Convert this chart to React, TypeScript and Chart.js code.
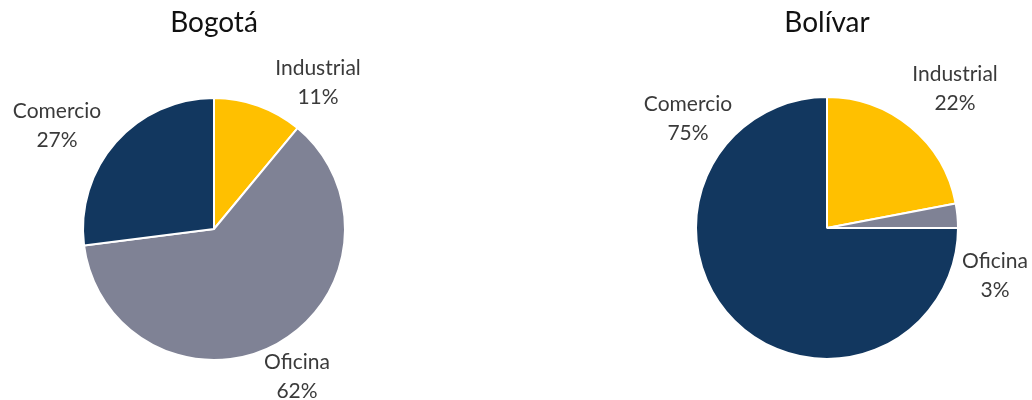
import React, { useEffect, useRef } from "react";
import { Chart, registerables } from "chart.js";

Chart.register(...registerables);

const categories = ["Industrial", "Oficina", "Comercio"];
const bogotaValues = [11, 62, 27];
const bolivarValues = [22, 3, 75];
const titles = ["Bogotá", "Bolívar"];
const colors = ["#FFC000", "#7F8295", "#12375F"];

const FONT = "Lato, 'Open Sans', sans-serif";

type LabelPos = { x: number; y: number };

const labelPlugin = {
  id: "pieLabels",
  afterDraw(chart: any, _args: any, opts: any) {
    const ctx = chart.ctx;
    const meta = chart.getDatasetMeta(0);
    const arc = meta.data[0];
    if (!arc) return;
    const cx = arc.x;
    const cy = arc.y;
    ctx.save();
    ctx.fillStyle = "#111111";
    ctx.font = `28px ${FONT}`;
    ctx.textAlign = "center";
    ctx.textBaseline = "middle";
    ctx.fillText(opts.title, cx, 23);
    ctx.fillStyle = "#3a3a3a";
    ctx.font = `21px ${FONT}`;
    const labels = chart.data.labels as string[];
    const values = chart.data.datasets[0].data as number[];
    const pos: LabelPos[] = opts.positions;
    labels.forEach((lab, i) => {
      const p = pos[i];
      ctx.fillText(lab, cx + p.x, cy + p.y - 14);
      ctx.fillText(values[i] + "%", cx + p.x, cy + p.y + 15);
    });
    ctx.restore();
  },
};

function Pie({
  values,
  title,
  padding,
  positions,
}: {
  values: number[];
  title: string;
  padding: any;
  positions: LabelPos[];
}) {
  const ref = useRef<HTMLCanvasElement>(null);
  useEffect(() => {
    const chart = new Chart(ref.current!, {
      type: "pie",
      data: {
        labels: categories,
        datasets: [
          {
            data: values,
            backgroundColor: colors,
            borderColor: "#ffffff",
            borderWidth: 2,
          },
        ],
      },
      options: {
        responsive: false,
        animation: false,
        layout: { padding },
        plugins: {
          legend: { display: false },
          tooltip: { enabled: false },
          pieLabels: { title, positions },
        } as any,
      },
      plugins: [labelPlugin],
    });
    return () => chart.destroy();
  }, []);
  return <canvas ref={ref} width={516} height={400} style={{ display: "block" }} />;
}

export default function App() {
  return (
    <div
      style={{
        position: "absolute",
        left: 0,
        top: 0,
        width: 1032,
        height: 400,
        background: "#fff",
        display: "flex",
      }}
    >
      <Pie
        values={bogotaValues}
        title={titles[0]}
        padding={{ left: 82, right: 170, top: 97, bottom: 39 }}
        positions={[
          { x: 104, y: -147 },
          { x: 83, y: 147 },
          { x: -157, y: -104 },
        ]}
      />
      <Pie
        values={bolivarValues}
        title={titles[1]}
        padding={{ left: 179, right: 73, top: 96, bottom: 40 }}
        positions={[
          { x: 128, y: -140 },
          { x: 168, y: 47 },
          { x: -139, y: -110 },
        ]}
      />
    </div>
  );
}
